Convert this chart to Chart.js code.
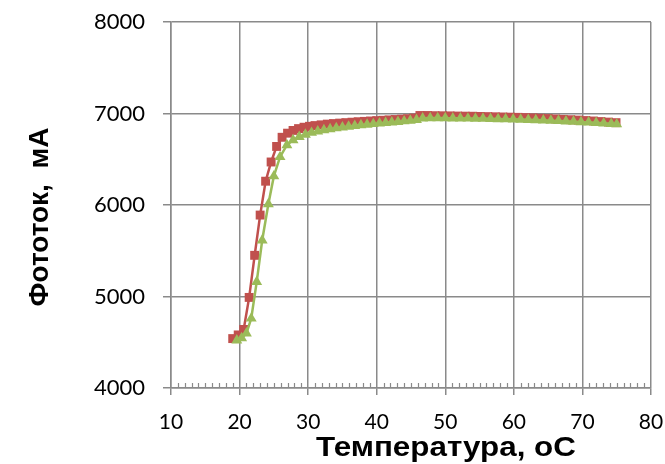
<!DOCTYPE html>
<html>
<head>
<meta charset="utf-8">
<script src="https://cdn.jsdelivr.net/npm/chart.js@4.4.0/dist/chart.umd.min.js"></script>
<style>
  body { margin: 0; background: #fff; }
</style>
</head>
<body>
<canvas id="myChart" width="665" height="464"></canvas>
<script>
// data
const tempRed = [19.0, 19.8, 20.6, 21.4, 22.2, 23.0, 23.8, 24.6, 25.4, 26.2, 27.0, 27.8, 28.6, 29.4, 30.2, 31.0,
  31.9, 32.8, 33.7, 34.6, 35.5, 36.4, 37.3, 38.2, 39.1, 40.0, 40.9, 41.8, 42.7, 43.6, 44.5, 45.4, 46.3,
  47.4, 48.5, 49.6, 50.7, 51.8, 52.9, 54.0, 55.1, 56.2, 57.3, 58.4, 59.5, 60.6, 61.7, 62.8, 63.9, 65.0,
  66.1, 67.2, 68.3, 69.4, 70.5, 71.6, 72.7, 73.8, 74.9];
const currentRed = [4540, 4580, 4640, 4990, 5450, 5890, 6260, 6470, 6640, 6740, 6785, 6815, 6835, 6850, 6860, 6868,
  6876, 6884, 6890, 6895, 6900, 6905, 6910, 6914, 6918, 6922, 6926, 6930, 6934, 6938, 6943, 6950, 6978,
  6978, 6976, 6975, 6974, 6972, 6971, 6970, 6968, 6966, 6964, 6962, 6960, 6958, 6955, 6952, 6948, 6945,
  6940, 6936, 6932, 6928, 6923, 6918, 6912, 6906, 6900];

const tempGreen = [19.6, 20.3, 21.0, 21.7, 22.5, 23.3, 24.2, 25.0, 25.9, 26.9,
  27.8, 28.7, 29.6, 30.5, 31.4, 32.3, 33.2, 34.1, 35.0, 35.9, 36.8, 37.7, 38.6, 39.5, 40.4, 41.3, 42.2,
  43.1, 44.0, 44.9, 45.8, 46.7,
  47.8, 48.9, 50.0, 51.1, 52.2, 53.3, 54.4, 55.5, 56.6, 57.7, 58.8, 59.9, 61.0, 62.1, 63.2, 64.3, 65.4,
  66.5, 67.6, 68.7, 69.8, 70.9, 72.0, 73.1, 74.2, 75.0];
const currentGreen = [4520, 4545, 4598, 4760, 5160, 5615, 6010, 6315, 6525, 6655,
  6710, 6745, 6770, 6790, 6805, 6818, 6830, 6840, 6850, 6858, 6866, 6874, 6880, 6886, 6892, 6898, 6904,
  6910, 6916, 6922, 6930, 6948,
  6950, 6950, 6949, 6948, 6947, 6946, 6945, 6944, 6942, 6940, 6938, 6936, 6934, 6931, 6928, 6925, 6922,
  6919, 6915, 6911, 6907, 6903, 6898, 6893, 6888, 6883];

const xTicks = [10, 20, 30, 40, 50, 60, 70, 80];
const yTicks = [4000, 5000, 6000, 7000, 8000];
const xTitle = 'Температура, оС';
const yTitle = 'Фототок,  мА';

const red = '#C0504D';
const green = '#9BBB59';
const gridGray = '#8a8a8a';

function toPoints (xs, ys) {
  return xs.map((x, i) => ({ x: x, y: ys[i] }));
}

// small inner ticks on the x axis, one per degree
const minorTicks = {
  id: 'minorTicks',
  beforeDatasetsDraw (chart) {
    const ctx = chart.ctx;
    const sx = chart.scales.x;
    const bottom = chart.chartArea.bottom;
    ctx.save();
    ctx.strokeStyle = gridGray;
    ctx.lineWidth = 1.2;
    ctx.beginPath();
    for (let v = xTicks[0]; v <= xTicks[xTicks.length - 1]; v++) {
      if (v % 10 === 0) continue;
      const px = Math.round(sx.getPixelForValue(v)) + 0.5;
      ctx.moveTo(px, bottom);
      ctx.lineTo(px, bottom - 5);
    }
    ctx.stroke();
    ctx.restore();
  }
};

// axis titles, placed like the original
const axisTitles = {
  id: 'axisTitles',
  afterDraw (chart) {
    const ctx = chart.ctx;
    const a = chart.chartArea;
    ctx.save();
    ctx.fillStyle = '#000';
    ctx.textAlign = 'center';
    ctx.textBaseline = 'middle';
    ctx.font = 'bold 28px "Liberation Sans", Arial, sans-serif';
    ctx.save();
    ctx.translate((a.left + a.right) / 2 + 35, a.bottom + 60);
    ctx.scale(1.12, 1);
    ctx.fillText(xTitle, 0, 0);
    ctx.restore();
    ctx.translate(40, (a.top + a.bottom) / 2 + 12);
    ctx.rotate(-Math.PI / 2);
    ctx.fillText(yTitle, 0, 0);
    ctx.restore();
  }
};

const ctx = document.getElementById('myChart');
const myChart = new Chart(ctx, {
  type: 'line',
  data: {
    datasets: [{
      label: 'red',
      data: toPoints(tempRed, currentRed),
      borderColor: red,
      backgroundColor: red,
      borderWidth: 2.5,
      pointStyle: 'rect',
      pointRadius: 6.3,
      pointBorderWidth: 0,
      order: 2
    }, {
      label: 'green',
      data: toPoints(tempGreen, currentGreen),
      borderColor: green,
      backgroundColor: green,
      borderWidth: 2.5,
      pointStyle: 'triangle',
      pointRadius: 6.3,
      pointBorderWidth: 0,
      order: 1
    }]
  },
  options: {
    responsive: false,
    animation: false,
    layout: { padding: { top: 22, right: 14, left: 0, bottom: 0 } },
    plugins: {
      legend: { display: false },
      tooltip: { enabled: false }
    },
    scales: {
      x: {
        type: 'linear',
        min: xTicks[0],
        max: xTicks[xTicks.length - 1],
        afterBuildTicks: s => { s.ticks = xTicks.map(v => ({ value: v })); },
        afterFit: s => { s.height = 76; s.paddingLeft = 0; s.paddingRight = 0; },
        grid: { color: gridGray, lineWidth: 1.5, tickLength: 7 },
        border: { color: gridGray, width: 1.5 },
        ticks: {
          color: '#000',
          padding: 15,
          maxRotation: 0,
          callback: v => String(v),
          font: { family: 'Lato', size: 21 }
        }
      },
      y: {
        min: yTicks[0],
        max: yTicks[yTicks.length - 1],
        afterBuildTicks: s => { s.ticks = yTicks.map(v => ({ value: v })); },
        afterFit: s => { s.width = 171; s.paddingTop = 0; s.paddingBottom = 0; },
        grid: { color: gridGray, lineWidth: 1.5, tickLength: 8 },
        border: { color: gridGray, width: 1.5 },
        ticks: {
          color: '#000',
          padding: 18,
          callback: v => String(v),
          font: { family: 'Lato', size: 22 }
        }
      }
    }
  },
  plugins: [minorTicks, axisTitles]
});
</script>
</body>
</html>
